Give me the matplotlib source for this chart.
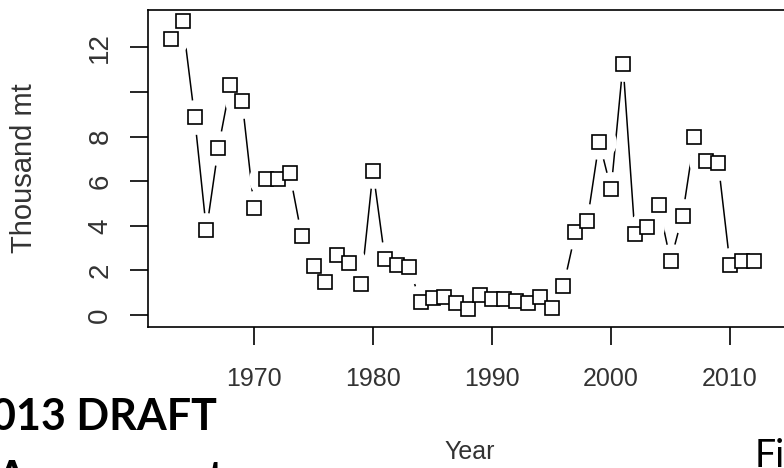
import matplotlib
matplotlib.use("Agg")
import matplotlib.pyplot as plt

# Catch series (thousand mt)
years = list(range(1963, 2013))
catch = [12.4, 13.2, 8.9, 3.8, 7.5, 10.3, 9.6, 4.8, 6.1, 6.1,
         6.35, 3.55, 2.2, 1.5, 2.7, 2.35, 1.4, 6.45, 2.5, 2.25,
         2.15, 0.6, 0.75, 0.8, 0.55, 0.28, 0.9, 0.7, 0.7, 0.64,
         0.53, 0.82, 0.3, 1.3, 3.7, 4.22, 7.77, 5.64, 11.25, 3.63,
         3.93, 4.93, 2.42, 4.45, 7.97, 6.92, 6.83, 2.22, 2.42, 2.42]

y_ticks = [0, 2, 4, 6, 8, 10, 12]
y_tick_labels = ['0', '2', '4', '6', '8', '', '12']
x_ticks = [1970, 1980, 1990, 2000, 2010]

W, H = 784, 468
fig = plt.figure(figsize=(W / 100, H / 100), dpi=100)
ax = fig.add_axes([148 / W, 141 / H, 644 / W, 317 / H])

# R-style type="b": line with gaps around the points
ax.plot(years, catch, color='black', lw=1.1, zorder=1)
ax.plot(years, catch, ls='none', marker='o', ms=25, mfc='white', mec='none', zorder=1.5)
ax.plot(years, catch, ls='none', marker='s', ms=10, mfc='white', mec='black', mew=1.2, zorder=3)

ax.set_xlim(1961.09, 2015.2)
ax.set_ylim(-0.54, 13.68)

for s in ax.spines.values():
    s.set_linewidth(1.2)
    s.set_zorder(2.5)

ax.set_xticks(x_ticks)
ax.set_xticklabels([str(x) for x in x_ticks])
ax.set_yticks(y_ticks)
ax.set_yticklabels(y_tick_labels, rotation=90, va='center')

ax.tick_params(axis='both', length=13, width=1.2, colors='black',
               labelcolor='#333333', labelsize=18)
ax.tick_params(axis='x', pad=16)
ax.tick_params(axis='y', pad=12, labelsize=20)
for lab in ax.get_xticklabels() + ax.get_yticklabels():
    lab.set_family('Liberation Sans')

fig.text(24 / W, 1 - 168 / H, 'Thousand mt', rotation=90, ha='center', va='center',
         fontsize=21, color='#333333', family='Liberation Sans')
fig.text(470 / W, 1 - 452 / H, 'Year', ha='center', va='center',
         fontsize=18, color='#333333', family='Liberation Sans')

# slide text around the figure (cut off in the original)
fig.text(217 / W, 1 - 430 / H, '2013 DRAFT', ha='right', va='baseline',
         fontsize=31, fontweight='bold', family='Lato', color='black')
fig.text(-4 / W, 1 - 492 / H, 'Assessment', ha='left', va='baseline',
         fontsize=31, fontweight='bold', family='Lato', color='black')
fig.text(755 / W, 1 - 467 / H, 'Figure', ha='left', va='baseline',
         fontsize=27, family='Lato', color='black')

fig.savefig('out.png', dpi=100)
